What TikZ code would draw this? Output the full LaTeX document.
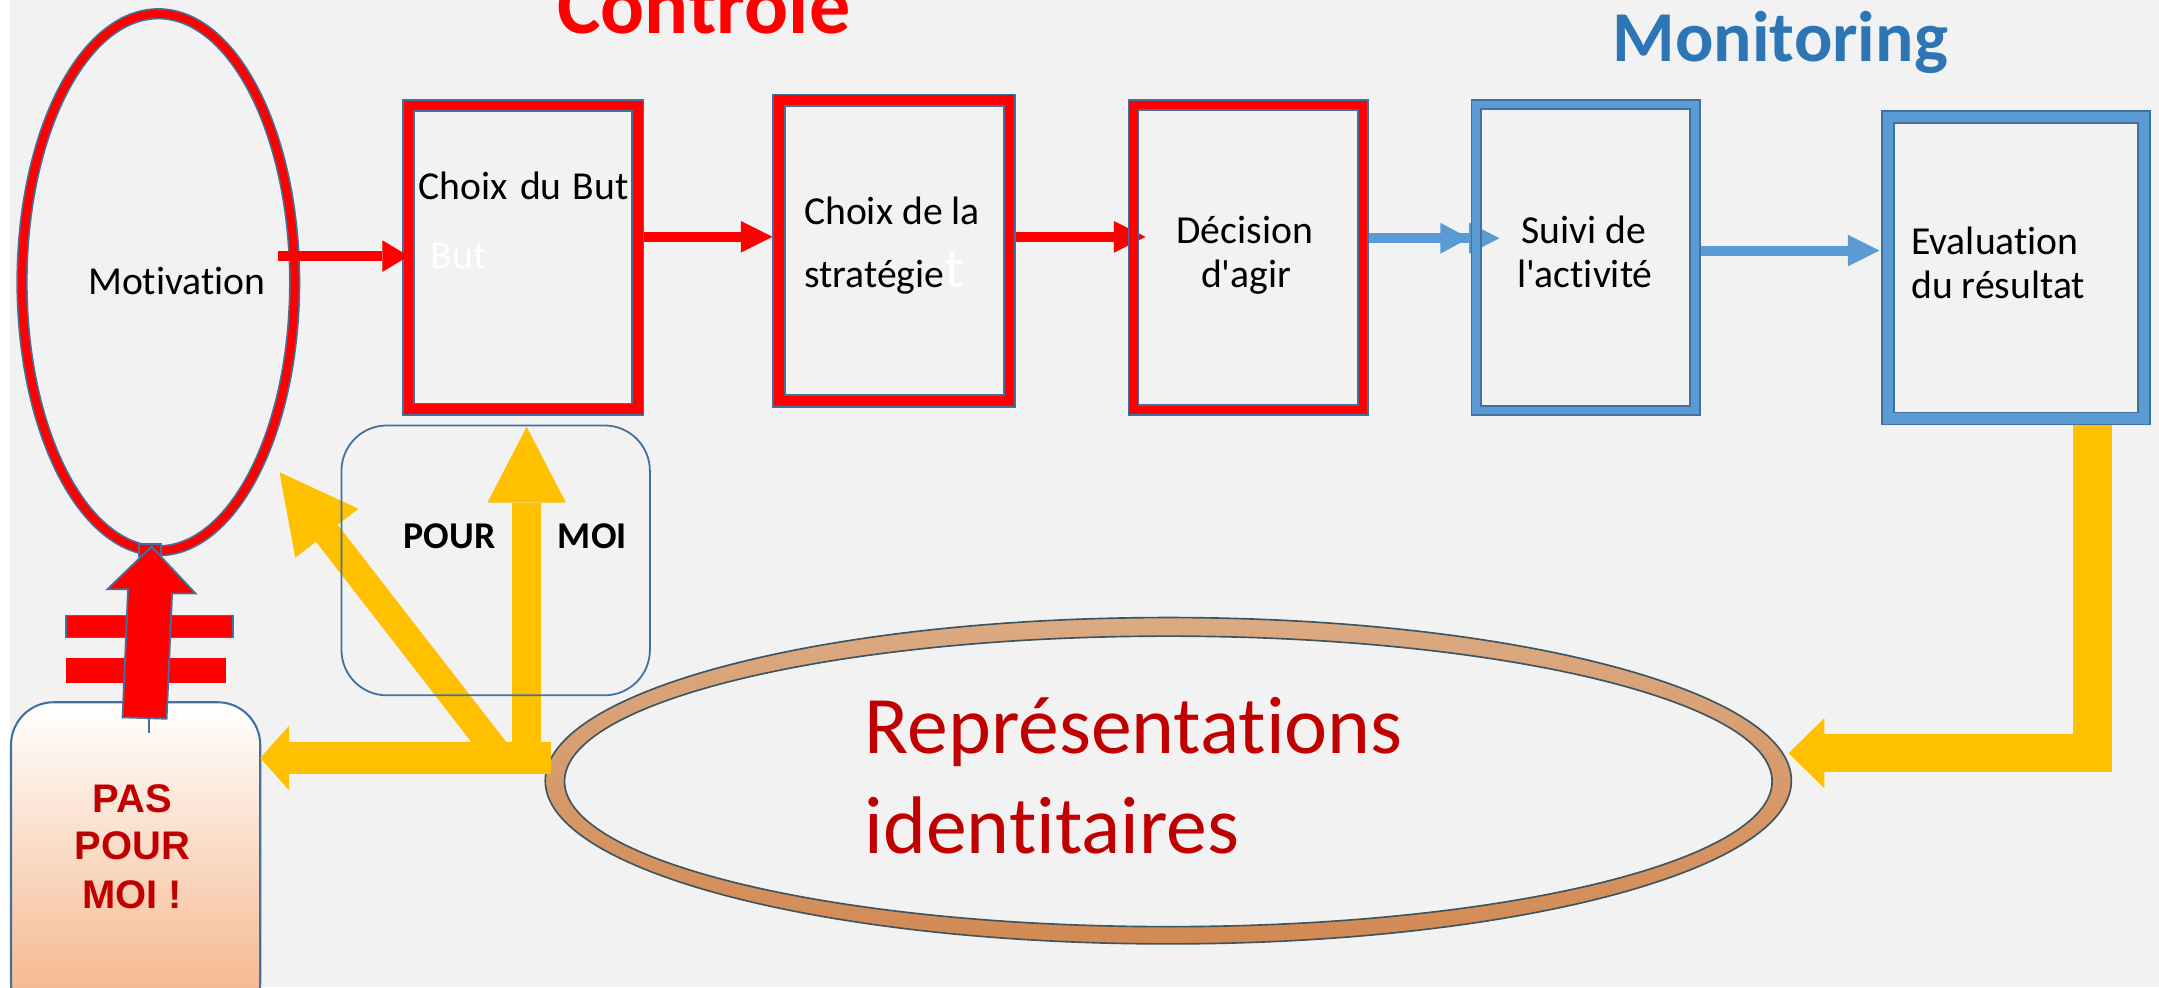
\documentclass[tikz,border=0pt]{standalone}
\usepackage{fontspec}
\setmainfont{Carlito}[Ligatures={TeXOff,CommonOff}]
\newfontfamily\arialfont{Liberation Sans}
\usetikzlibrary{arrows.meta,shapes.geometric}
\pgfdeclarelayer{back}
\pgfdeclarelayer{mid}
\pgfsetlayers{back,mid,main}
\definecolor{bg}{HTML}{F2F2F2}
\definecolor{edgeblue}{HTML}{41719C}
\definecolor{lightblue}{HTML}{5B9BD5}
\definecolor{titleblue}{HTML}{2E75B6}
\definecolor{gold}{HTML}{FFC000}
\definecolor{darkred}{HTML}{C00000}
\definecolor{ringtop}{HTML}{DBAA83}
\definecolor{ringbot}{HTML}{D38A54}
\definecolor{ringedge}{HTML}{3E5560}
\definecolor{peach}{HTML}{F4B183}
\begin{document}
\begin{tikzpicture}[x=1pt,y=-1pt,
  redbox/.style={rectangle, draw=edgeblue, line width=1.25pt, double=red, double distance=7pt, inner sep=0pt, outer sep=0pt},
  bluebox/.style={rectangle, draw=edgeblue, line width=1.25pt, double=lightblue, double distance=5.5pt, inner sep=0pt, outer sep=0pt},
  boxtext/.style={inner sep=0pt, outer sep=0pt, text=black, font=\fontsize{28.8}{32}\selectfont},
  redarr/.style={draw=red, line width=7.5pt, -{Triangle[length=23pt,width=23pt,line width=0pt]}},
  bluearr/.style={draw=lightblue, line width=7.3pt, -{Triangle[length=23pt,width=23pt,line width=0pt]}},
  pmtext/.style={inner sep=0pt, outer sep=0pt, anchor=base, text=darkred, font=\arialfont\bfseries\fontsize{29}{34}\selectfont},
  reptext/.style={inner sep=0pt, outer sep=0pt, anchor=base west, text=darkred, font=\fontsize{59.3}{70}\selectfont},
]
\useasboundingbox (0,0) rectangle (1568,717);
\begin{pgfonlayer}{back}
  \fill[white] (0,0) rectangle (1568,717);
  \fill[bg] (7,0) rectangle (1568,717);
\end{pgfonlayer}

% Motivation ellipse
\node[ellipse, draw=edgeblue, line width=1.2pt, double=red, double distance=5.8pt,
      minimum width=198pt, minimum height=390pt, inner sep=0pt, outer sep=0pt] (motiv) at (115,205) {};

% boxes
\node[redbox, minimum width=166.5pt, minimum height=220.5pt] (but) at (380,187) {};
\node[redbox, minimum width=167.5pt, minimum height=218.5pt] (strat) at (649.5,182) {};
\node[redbox, double distance=6pt, minimum width=166.5pt, minimum height=221.5pt] (dec) at (906.5,187) {};
\node[bluebox, minimum width=159pt, minimum height=222pt] (suivi) at (1151.5,187) {};
\node[bluebox, double distance=7.5pt, minimum width=186pt, minimum height=219pt] (eval) at (1464,194.5) {};

% arrows between boxes (under the boxes)
\coordinate (a2s) at ([yshift=15pt]but.east);
\coordinate (a3s) at ([yshift=10pt]strat.east);
\coordinate (a4s) at ([yshift=14pt]dec.east);
\coordinate (a5s) at ([yshift=5pt]suivi.east);
\begin{pgfonlayer}{mid}
  \draw[redarr, shorten >=4.75pt] (a2s) -- (a2s -| strat.west);
  \draw[redarr, shorten >=-8.75pt] (a3s) -- (a3s -| dec.west);
  \draw[bluearr, -{Triangle[length=21pt,width=22.5pt,line width=0pt]Triangle[length=22pt,width=22.5pt,line width=0pt]}, shorten >=-17pt] (a4s) -- (a4s -| suivi.west);
  \draw[bluearr, shorten >=6pt] (a5s) -- (a5s -| eval.west);
\end{pgfonlayer}

% Motivation -> Choix du But
\coordinate (a1s) at ([xshift=-12pt,yshift=19pt]motiv.east);
\draw[redarr, -{Triangle[length=19pt,width=23pt,line width=0pt]}] (a1s) -- (a1s -| but.west);

% Representations identitaires ring
\node[ellipse, draw=ringedge, line width=1.2pt, top color=ringtop, bottom color=ringbot,
      minimum width=905pt, minimum height=237pt, inner sep=0pt, outer sep=0pt] (rep) at (848.5,567) {};
\node[ellipse, draw=ringedge, line width=1.2pt, fill=bg,
      minimum width=877pt, minimum height=211pt, inner sep=0pt, outer sep=0pt] (repin) at (848.5,567.5) {};

% PAS POUR MOI box
\node[rectangle, draw=edgeblue, line width=1.5pt, rounded corners=31pt, top color=white, bottom color=peach,
      minimum width=181pt, minimum height=235pt, inner sep=0pt, outer sep=0pt] (pas) at (98.5,627.5) {};

% yellow arrows
\coordinate (hub) at (400,550.5);
\coordinate (y3s) at (382.5,550.5);
\coordinate (y4s) at (359.9,545.2);
\coordinate (y4t) at (203,343);
\coordinate (y1c) at (1519.5,547);
\draw[draw=gold, line width=20pt, -{Triangle[length=56pt,width=58pt,line width=0pt]}] (y4s) -- (y4t);
\draw[draw=gold, line width=21pt, -{Triangle[length=55pt,width=57pt,line width=0pt]}, shorten >=12.75pt] (y3s) -- (y3s |- but.south);
\draw[draw=gold, line width=23pt, -{Triangle[length=21pt,width=47pt,line width=0pt]}] (hub) -- (hub -| pas.east);
\draw[draw=gold, line width=28pt, -{Triangle[length=26pt,width=51pt,line width=0pt]}, shorten >=-2pt]
  ([xshift=55.5pt,yshift=-5pt]eval.south) |- (rep.east |- y1c);

% POUR MOI box
\node[rectangle, draw=edgeblue, line width=1.3pt, rounded corners=33pt,
      minimum width=224pt, minimum height=196pt, inner sep=0pt, outer sep=0pt] (pm) at (360,407) {};

% not-equal bars and red block arrow
\draw[fill=red, draw=edgeblue, line width=1.2pt] (48,447) rectangle (169,463);
\fill[red] (48,478) rectangle (164,496);
\draw[fill=red, draw=edgeblue, line width=1pt] (101,395) rectangle (117,404);
\draw[fill=red, draw=edgeblue, line width=1.3pt, line join=miter]
  (110,397) -- (142,431) -- (125,431) -- (121,522) -- (89,521) -- (93,428) -- (78,428) -- cycle;
\draw[edgeblue, line width=1.2pt] (108,522) -- (108,532);

% titles
\node[anchor=base west, inner sep=0pt, text=red, font=\bfseries\fontsize{59.6}{60}\selectfont] (tctrl) at (404.5,24) {Contrôle};
\node[anchor=base west, inner sep=0pt, text=titleblue, font=\bfseries\fontsize{52}{54}\selectfont] (tmon) at (1171,45) {Monitoring};

% box texts
\node[boxtext, anchor=base west] (tmot) at (64,214) {Motivation};
\node[boxtext, anchor=base west] (tbut) at (304,145) {Choix\hspace{9pt}du\hspace{8pt}But};
\node[boxtext, anchor=base west, text=white] (tbutw) at (313,195) {But};
\node[boxtext, anchor=base west] (tstr1) at (584,163) {Choix de la};
\node[boxtext, anchor=base west] (tstr2) at (584,208.7) {stratégie{\color{white}\fontsize{42}{42}\selectfont t}};
\node[boxtext, anchor=base] (tdec1) at (904,177) {Décision};
\node[boxtext, anchor=base] (tdec2) at (905,209) {d'agir};
\node[boxtext, anchor=base] (tsui1) at (1150,177) {Suivi de};
\node[boxtext, anchor=base] (tsui2) at (1151,209) {l'activité};
\node[boxtext, anchor=base west] (teva1) at (1388,185) {Evaluation};
\node[boxtext, anchor=base west] (teva2) at (1388,217) {du résultat};

% POUR MOI
\node[inner sep=0pt, anchor=base west, font=\bfseries\fontsize{27.5}{30}\selectfont] (tpour) at (293,398) {POUR};
\node[inner sep=0pt, anchor=base west, font=\bfseries\fontsize{27.5}{30}\selectfont] (tmoi) at (405,398) {MOI};

% PAS POUR MOI !
\node[pmtext] (tpas1) at (96,590) {PAS};
\node[pmtext] (tpas2) at (96,624.5) {POUR};
\node[pmtext] (tpas3) at (96,660) {MOI !};

% Representations identitaires
\node[reptext] (trep1) at (628,547) {Représentations};
\node[reptext] (trep2) at (628,619.5) {identitaires};
\end{tikzpicture}
\end{document}
